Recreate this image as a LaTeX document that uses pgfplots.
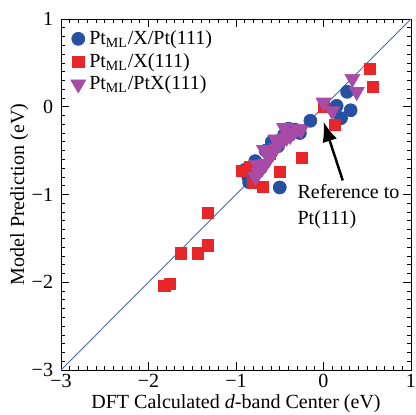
\documentclass[border=0pt]{standalone}
\usepackage{pgfplots}
\pgfplotsset{compat=1.18}
\usepackage{fontspec}
\setmainfont{Liberation Serif}
\usetikzlibrary{arrows.meta}
\definecolor{cblue}{RGB}{40,80,160}
\definecolor{cred}{RGB}{232,38,42}
\definecolor{cpurple}{RGB}{166,76,166}
\definecolor{cline}{RGB}{70,100,200}
\begin{document}
\begin{tikzpicture}
\begin{axis}[
	name=ax,
	scale only axis,
	width=7cm,
	height=7.02cm,
	xmin=-3, xmax=1,
	ymin=-3, ymax=1,
	xtick={-3,-2,-1,0,1},
	ytick={-3,-2,-1,0,1},
	xticklabels={−3,−2,−1,0,1},
	yticklabels={−3,−2,−1,0,1},
	xticklabel style={yshift=1pt},
	yticklabel style={xshift=-1pt},
	minor tick num=9,
	tick align=inside,
	major tick length=0.16cm,
	minor tick length=0.08cm,
	tick style={black, line width=0.4pt},
	axis line style={line width=0.5pt},
	font=\fontsize{11.4}{13.5}\selectfont,
	xlabel={DFT Calculated \textit{d}-band Center (eV)},
	ylabel={Model Prediction (eV)},
	xlabel style={yshift=3pt},
	ylabel style={yshift=-5pt},
	legend style={at={(0.012,0.988)}, anchor=north west, draw=none, fill=none,
		font=\fontsize{11.4}{13.5}\selectfont, row sep=-0.5pt},
	legend cell align=left,
]
\addplot[only marks, mark=*, mark size=3.7pt, color=cblue] coordinates {
	(-0.90,-0.72) (-0.86,-0.80) (-0.85,-0.86) (-0.80,-0.70) (-0.78,-0.62)
	(-0.72,-0.70) (-0.66,-0.50) (-0.59,-0.40) (-0.52,-0.45) (-0.50,-0.92)
	(-0.45,-0.32) (-0.40,-0.25) (-0.33,-0.26) (-0.27,-0.30) (-0.15,-0.16)
	(0.15,0.01) (0.20,-0.13) (0.27,0.17) (0.31,-0.04)
};
\addlegendentry{Pt\textsubscript{ML}/X/Pt(111)}
\addplot[only marks, mark=square*, mark size=3.2pt, color=cred] coordinates {
	(-1.82,-2.04) (-1.76,-2.02) (-1.63,-1.67) (-1.44,-1.67) (-1.32,-1.58)
	(-1.32,-1.21) (-0.93,-0.73) (-0.84,-0.69) (-0.81,-0.87) (-0.69,-0.91)
	(-0.61,-0.53) (-0.50,-0.74) (-0.25,-0.58) (0.00,0.00) (0.13,-0.21)
	(0.53,0.43) (0.56,0.23)
};
\addlegendentry{Pt\textsubscript{ML}/X(111)}
\addplot[only marks, mark=triangle*, mark size=4.9pt, color=cpurple,
	mark options={rotate=180}] coordinates {
	(-0.78,-0.80) (-0.74,-0.75) (-0.76,-0.66) (-0.70,-0.70) (-0.66,-0.65)
	(-0.62,-0.59) (-0.68,-0.49) (-0.58,-0.53) (-0.54,-0.47) (-0.50,-0.42)
	(-0.55,-0.37) (-0.46,-0.37) (-0.42,-0.35) (-0.38,-0.33) (-0.34,-0.29)
	(-0.30,-0.25) (-0.26,-0.27) (-0.45,-0.24) (0.00,0.05) (0.10,-0.05)
	(0.33,0.32) (0.38,0.17)
};
\addlegendentry{Pt\textsubscript{ML}/PtX(111)}
\addplot[color=cline, line width=0.5pt, forget plot] coordinates {(-3,-3) (1,1)};
\draw[line width=1.4pt, -{Latex[length=4mm,width=3mm]}] (axis cs:0.22,-0.84) -- (axis cs:0.0,-0.17);
\node[anchor=north west, align=left, inner sep=0pt, font=\fontsize{11.4}{15}\selectfont]
	at (axis cs:-0.30,-0.88) {Reference to\\Pt(111)};
\end{axis}
\pgfresetboundingbox
\path ([xshift=-1.22cm,yshift=-0.9cm]ax.south west) rectangle ([xshift=0.1cm,yshift=0.38cm]ax.north east);
\end{tikzpicture}
\end{document}
